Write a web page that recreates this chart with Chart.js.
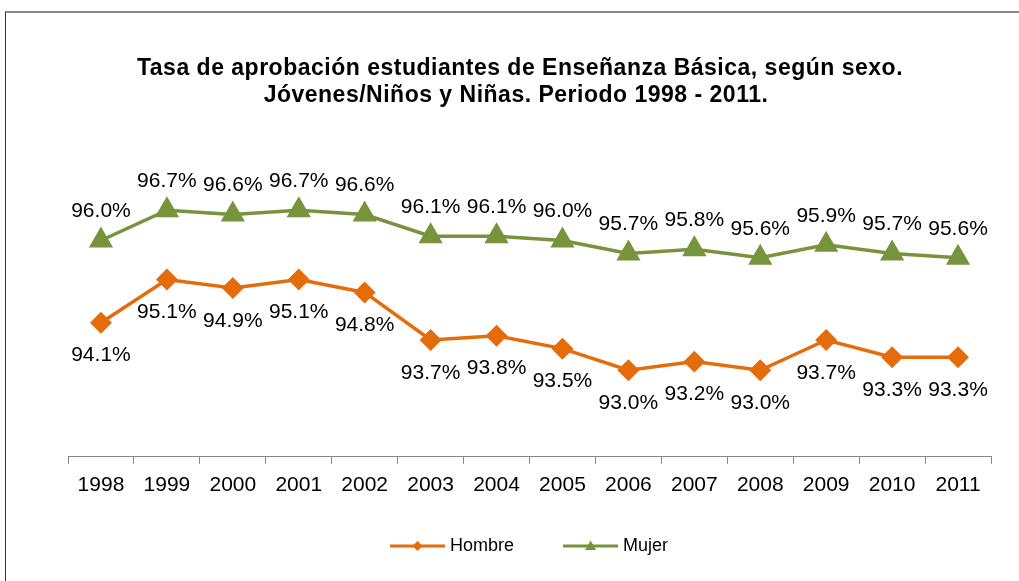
<!DOCTYPE html>
<html>
<head>
<meta charset="utf-8">
<script src="https://cdn.jsdelivr.net/npm/chart.js@4/dist/chart.umd.min.js"></script>
<style>
  body{margin:0;background:#fff;}
  #wrap{position:relative;width:1019px;height:581px;}
  #frame{position:absolute;left:5px;top:11px;right:0;bottom:0;border-top:2px solid #8a8a8a;border-left:1px solid #333;}
  canvas{position:absolute;left:0;top:0;}
</style>
</head>
<body>
<div id="wrap">
  <div id="frame"></div>
  <canvas id="lineChart" width="1019" height="581"></canvas>
</div>
<script>
var years=['1998','1999','2000','2001','2002','2003','2004','2005','2006','2007','2008','2009','2010','2011'];
var hombre=[94.1,95.1,94.9,95.1,94.8,93.7,93.8,93.5,93.0,93.2,93.0,93.7,93.3,93.3];
var mujer=[96.0,96.7,96.6,96.7,96.6,96.1,96.1,96.0,95.7,95.8,95.6,95.9,95.7,95.6];
var titleLines=['Tasa de aprobación estudiantes de Enseñanza Básica, según sexo.','Jóvenes/Niños y Niñas. Periodo 1998 - 2011.'];

var FONT='"Liberation Sans", Arial, sans-serif';
var orange='#E46C0A', green='#77933C';

// legend icon: line with marker (drawn right of centre so text sits close)
function icon(color,shape){
  var c=document.createElement('canvas');
  c.width=104;c.height=20;
  var g=c.getContext('2d');
  g.strokeStyle=color;g.fillStyle=color;g.lineWidth=3;
  g.beginPath();g.moveTo(46,10);g.lineTo(101,10);g.stroke();
  var cx=73.5;
  g.beginPath();
  if(shape=='diamond'){
    g.moveTo(cx,5);g.lineTo(cx+5,10);g.lineTo(cx,15);g.lineTo(cx-5,10);
  }else{
    g.moveTo(cx,4.5);g.lineTo(cx+5.5,14);g.lineTo(cx-5.5,14);
  }
  g.closePath();g.fill();
  return c;
}
var legendIcons=[icon(orange,'diamond'),icon(green,'triangle')];

var titlePlugin={
  id:'titleText',
  afterDraw:function(chart){
    var ctx=chart.ctx;
    ctx.save();
    ctx.font='bold 23px '+FONT;
    ctx.letterSpacing='0.5px';
    ctx.fillStyle='#000';
    ctx.textAlign='center';
    ctx.textBaseline='alphabetic';
    ctx.fillText(titleLines[0],520,75);
    ctx.fillText(titleLines[1],516,102);
    ctx.restore();
  }
};

var labelPlugin={
  id:'valueLabels',
  afterDatasetsDraw:function(chart){
    var ctx=chart.ctx;
    ctx.save();
    ctx.font='21px '+FONT;
    ctx.fillStyle='#000';
    ctx.textAlign='center';
    ctx.textBaseline='middle';
    chart.data.datasets.forEach(function(ds,i){
      var meta=chart.getDatasetMeta(i);
      meta.data.forEach(function(pt,j){
        ctx.fillText(ds.data[j].toFixed(1)+'%',pt.x,pt.y+ds.labelOffset);
      });
    });
    ctx.restore();
  }
};

new Chart('lineChart',{
  type:'line',
  data:{
    labels:years,
    datasets:[{
      label:'Hombre',
      data:hombre,
      borderColor:orange,
      backgroundColor:orange,
      borderWidth:3.5,
      pointStyle:'rectRot',
      pointRadius:8.5,
      pointHoverRadius:8.5,
      tension:0,
      fill:false,
      labelOffset:33
    },{
      label:'Mujer',
      data:mujer,
      borderColor:green,
      backgroundColor:green,
      borderWidth:3.5,
      pointStyle:'triangle',
      pointRadius:10.5,
      pointHoverRadius:10.5,
      tension:0,
      fill:false,
      labelOffset:-29
    }]
  },
  options:{
    responsive:false,
    animation:false,
    layout:{padding:{top:154,left:28,right:28,bottom:16}},
    scales:{
      x:{
        offset:true,
        grid:{offset:true,drawOnChartArea:false,drawTicks:true,tickLength:7,color:'#868686'},
        border:{display:true,color:'#868686',width:1},
        ticks:{font:{family:FONT,size:21},color:'#000',padding:9,maxRotation:0},
        afterFit:function(s){s.height+=20;}
      },
      y:{
        display:true,min:91,max:98,
        grid:{display:false},border:{display:false},ticks:{display:false},
        afterFit:function(s){s.width=40;}
      }
    },
    plugins:{
      title:{display:false},
      tooltip:{enabled:false},
      legend:{
        display:true,
        position:'bottom',
        labels:{
          font:{family:FONT,size:18},
          color:'#000',
          usePointStyle:true,
          pointStyleWidth:90,
          padding:10,
          generateLabels:function(chart){
            return chart.data.datasets.map(function(ds,i){
              return {text:ds.label,pointStyle:legendIcons[i],fillStyle:ds.borderColor,strokeStyle:ds.borderColor,lineWidth:0,hidden:false,datasetIndex:i,fontColor:'#000'};
            });
          }
        }
      }
    }
  },
  plugins:[titlePlugin,labelPlugin]
});
</script>
</body>
</html>
